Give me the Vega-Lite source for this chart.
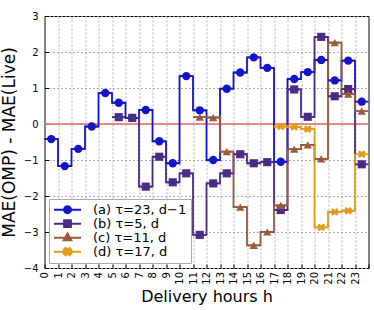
{
  "$schema": "https://vega.github.io/schema/vega-lite/v6.json",
  "width": 324,
  "height": 252,
  "autosize": {"type": "none"},
  "padding": {"left": 44.5, "top": 16, "right": 5.5, "bottom": 42},
  "config": {
    "font": "DejaVu Sans",
    "view": {"stroke": "black", "strokeWidth": 1},
    "axis": {
      "labelFont": "DejaVu Sans",
      "titleFont": "DejaVu Sans",
      "labelColor": "black",
      "titleColor": "black",
      "titleFontWeight": "normal",
      "gridColor": "#999999",
      "gridDash": [2, 2],
      "gridWidth": 0.8,
      "gridOpacity": 1,
      "tickColor": "black",
      "tickSize": -4,
      "domain": false,
      "labelFontSize": 10,
      "titleFontSize": 16,
      "labelOverlap": false
    },
    "axisX": {"tickCount": 24, "labelExpr": "datum.value == 24 ? '' : datum.label", "labelAngle": 270, "labelPadding": 7.5, "titlePadding": 4, "grid": true},
    "axisY": {"tickCount": 7, "labelPadding": 10.5, "titlePadding": 5, "grid": true, "titleFontSize": 17}
  },
  "data": {
    "values": [
      {"s": "a", "h": 0, "v": -0.42}, {"s": "a", "h": 1, "v": -1.17}, {"s": "a", "h": 2, "v": -0.69}, {"s": "a", "h": 3, "v": -0.07},
      {"s": "a", "h": 4, "v": 0.86}, {"s": "a", "h": 5, "v": 0.59}, {"s": "a", "h": 6, "v": 0.17}, {"s": "a", "h": 7, "v": 0.39},
      {"s": "a", "h": 8, "v": -0.48}, {"s": "a", "h": 9, "v": -1.09}, {"s": "a", "h": 10, "v": 1.33}, {"s": "a", "h": 11, "v": 0.38},
      {"s": "a", "h": 12, "v": -1.0}, {"s": "a", "h": 13, "v": 0.98}, {"s": "a", "h": 14, "v": 1.43}, {"s": "a", "h": 15, "v": 1.85},
      {"s": "a", "h": 16, "v": 1.56}, {"s": "a", "h": 17, "v": -1.05}, {"s": "a", "h": 18, "v": 1.25}, {"s": "a", "h": 19, "v": 1.44},
      {"s": "a", "h": 20, "v": 1.78}, {"s": "a", "h": 21, "v": 1.21}, {"s": "a", "h": 22, "v": 1.76}, {"s": "a", "h": 23, "v": 0.62},
      {"s": "b", "h": 5, "v": 0.19}, {"s": "b", "h": 6, "v": 0.17}, {"s": "b", "h": 7, "v": -1.74}, {"s": "b", "h": 8, "v": -0.91},
      {"s": "b", "h": 9, "v": -1.62}, {"s": "b", "h": 10, "v": -1.37}, {"s": "b", "h": 11, "v": -3.08}, {"s": "b", "h": 12, "v": -1.65},
      {"s": "b", "h": 13, "v": -1.37}, {"s": "b", "h": 14, "v": -0.84}, {"s": "b", "h": 15, "v": -1.09}, {"s": "b", "h": 16, "v": -1.06},
      {"s": "b", "h": 17, "v": -2.39}, {"s": "b", "h": 18, "v": 0.96}, {"s": "b", "h": 19, "v": 0.2}, {"s": "b", "h": 20, "v": 2.42},
      {"s": "b", "h": 21, "v": 0.77}, {"s": "b", "h": 22, "v": 0.97}, {"s": "b", "h": 23, "v": -1.12},
      {"s": "c", "h": 11, "v": 0.19}, {"s": "c", "h": 12, "v": 0.18}, {"s": "c", "h": 13, "v": -0.77}, {"s": "c", "h": 14, "v": -2.31},
      {"s": "c", "h": 15, "v": -3.37}, {"s": "c", "h": 16, "v": -3.0}, {"s": "c", "h": 17, "v": -2.26}, {"s": "c", "h": 18, "v": -0.7},
      {"s": "c", "h": 19, "v": -0.58}, {"s": "c", "h": 20, "v": -0.97}, {"s": "c", "h": 21, "v": 2.26}, {"s": "c", "h": 22, "v": 0.83},
      {"s": "c", "h": 23, "v": 0.36},
      {"s": "d", "h": 17, "v": -0.07}, {"s": "d", "h": 18, "v": -0.08}, {"s": "d", "h": 19, "v": -0.14}, {"s": "d", "h": 20, "v": -2.87},
      {"s": "d", "h": 21, "v": -2.44}, {"s": "d", "h": 22, "v": -2.41}, {"s": "d", "h": 23, "v": -0.84}
    ]
  },
  "encoding": {
    "y": {"field": "v", "type": "quantitative", "title": "MAE(OMP) - MAE(Live)", "scale": {"domain": [-4, 3], "nice": false, "zero": false}},
    "color": {"field": "s", "type": "nominal", "legend": null, "scale": {"domain": ["a", "b", "c", "d"], "range": ["#1414c8", "#4a2c86", "#9a5a3c", "#e39b1b"]}}
  },
  "layer": [
    {
      "data": {"values": [{"v": 0}]},
      "mark": {"type": "rule", "color": "#e87777", "strokeWidth": 2, "opacity": 0.85},
      "encoding": {"color": {"value": "#e87777"}}
    },
    {
      "mark": {"type": "line", "interpolate": "step-after", "strokeWidth": 1.8},
      "encoding": {
        "x": {"field": "h", "type": "quantitative", "title": "Delivery hours h", "scale": {"domain": [0, 24], "nice": false, "zero": false}},
        "color": {
          "field": "s", "type": "nominal",
          "legend": {
            "orient": "none", "legendX": 4.5, "legendY": 183, "title": null,
            "labelExpr": "datum.value == 'a' ? '(a) τ=23, d−1' : datum.value == 'b' ? '(b) τ=5, d' : datum.value == 'c' ? '(c) τ=11, d' : '(d) τ=17, d'",
            "symbolSize": 729, "symbolStrokeWidth": 2, "clipHeight": 13.3, "rowPadding": 0, "padding": 4,
            "labelOffset": 11, "labelFontSize": 13, "labelFont": "DejaVu Sans", "labelColor": "black",
            "strokeColor": "#aaaaaa", "fillColor": "white", "cornerRadius": 0,
            "encoding": {
              "symbols": {
                "shape": {"value": {"signal": "datum.value == 'a' ? 'M-1,0H1M-0.26,0A0.26,0.26,0,1,0,0.26,0A0.26,0.26,0,1,0,-0.26,0Z' : datum.value == 'b' ? 'M-1,0H1M-0.25,-0.25H0.25V0.25H-0.25Z' : datum.value == 'c' ? 'M-1,0H1M0,-0.3L0.28,0.2L-0.28,0.2Z' : 'M-1,0H1M-0.28,-0.14L-0.14,-0.28L0,-0.14L0.14,-0.28L0.28,-0.14L0.14,0L0.28,0.14L0.14,0.28L0,0.14L-0.14,0.28L-0.28,0.14L-0.14,0Z'"}},
                "fill": {"value": {"signal": "scale('color', datum.value)"}},
                "stroke": {"value": {"signal": "scale('color', datum.value)"}}
              }
            }
          }
        }
      }
    },
    {
      "transform": [{"calculate": "datum.h + 1", "as": "h1"}],
      "mark": {"type": "rule", "strokeWidth": 1.8},
      "encoding": {
        "x": {"field": "h", "type": "quantitative", "title": "Delivery hours h"},
        "x2": {"field": "h1"}
      }
    },
    {
      "transform": [{"filter": "datum.s == 'a'"}, {"calculate": "datum.h + 0.5", "as": "hm"}],
      "mark": {"type": "point", "filled": true, "size": 70, "opacity": 1, "shape": "circle"},
      "encoding": {"x": {"field": "hm", "type": "quantitative", "title": "Delivery hours h"}}
    },
    {
      "transform": [{"filter": "datum.s == 'b'"}, {"calculate": "datum.h + 0.5", "as": "hm"}],
      "mark": {"type": "point", "filled": true, "size": 66, "opacity": 1, "shape": "square"},
      "encoding": {"x": {"field": "hm", "type": "quantitative", "title": "Delivery hours h"}}
    },
    {
      "transform": [{"filter": "datum.s == 'c'"}, {"calculate": "datum.h + 0.5", "as": "hm"}],
      "mark": {"type": "point", "filled": true, "size": 70, "opacity": 1, "shape": "triangle-up"},
      "encoding": {"x": {"field": "hm", "type": "quantitative", "title": "Delivery hours h"}}
    },
    {
      "transform": [{"filter": "datum.s == 'd'"}, {"calculate": "datum.h + 0.5", "as": "hm"}],
      "mark": {"type": "point", "filled": true, "size": 60, "opacity": 1, "shape": "M-1,-0.5L-0.5,-1L0,-0.5L0.5,-1L1,-0.5L0.5,0L1,0.5L0.5,1L0,0.5L-0.5,1L-1,0.5L-0.5,0Z"},
      "encoding": {"x": {"field": "hm", "type": "quantitative", "title": "Delivery hours h"}}
    }
  ]
}
